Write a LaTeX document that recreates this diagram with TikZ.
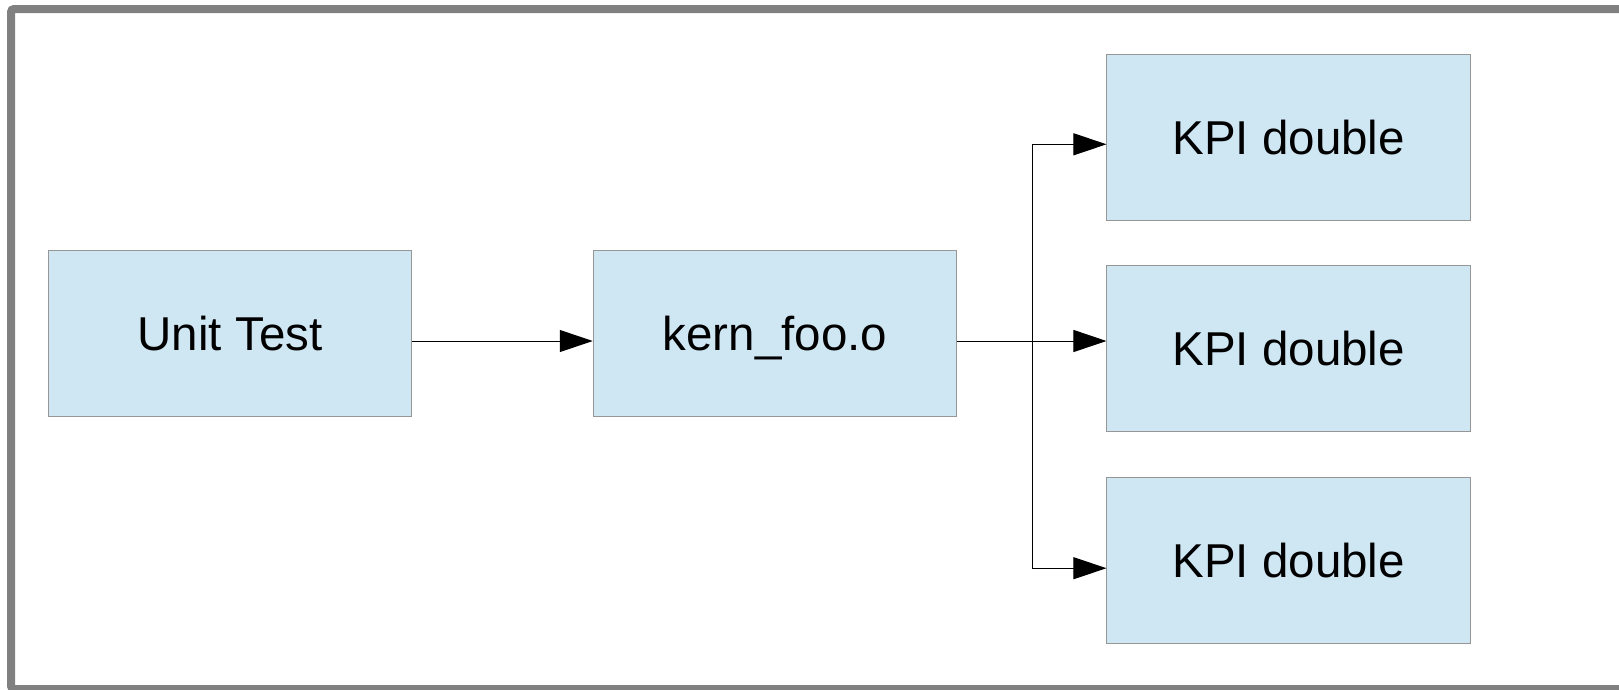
\documentclass[tikz,border=0pt]{standalone}
\usepackage{fontspec}
\setmainfont{Liberation Sans}
\usetikzlibrary{arrows.meta}
\definecolor{boxfill}{RGB}{207,230,243}
\definecolor{boxline}{RGB}{150,150,150}
\definecolor{framegray}{RGB}{128,128,128}
\tikzset{
  blockbox/.style={draw=boxline, fill=boxfill, line width=1pt, minimum width=363.5pt, minimum height=166pt, inner sep=0pt, text height=34pt, text depth=0pt, font=\fontsize{47.5}{57}\selectfont},
  conn/.style={line width=1pt, -{Triangle[length=33pt,width=22pt]}}
}
\begin{document}
\begin{tikzpicture}[x=1pt,y=-1pt]
\useasboundingbox (0,0) rectangle (1619,689);
\clip (0,0) rectangle (1619,689);
\fill[white] (0,0) rectangle (1619,689);
\draw[framegray, line width=8pt, rounded corners=3pt] (11,9) rectangle (1630,689);
\node[blockbox] (ut) at (230,333.7) {Unit Test};
\node[blockbox] (kern) at (775,333.7) {kern\_foo.o};
\node[blockbox] (k1) at (1288.7,137) {KPI double};
\node[blockbox] (k2) at (1288.7,348.7) {KPI double};
\node[blockbox] (k3) at (1288.7,560.2) {KPI double};
\coordinate (br) at (1032,341);
\draw[conn] ([yshift=-7.3pt]ut.east) -- ([yshift=-7.3pt]kern.west);
\draw[conn] ([yshift=-7.3pt]kern.east) -- ([yshift=7.7pt]k2.west);
\draw[conn] (br) |- ([yshift=-7.3pt]k1.west);
\draw[conn] (br) |- ([yshift=-8pt]k3.west);
\end{tikzpicture}
\end{document}
